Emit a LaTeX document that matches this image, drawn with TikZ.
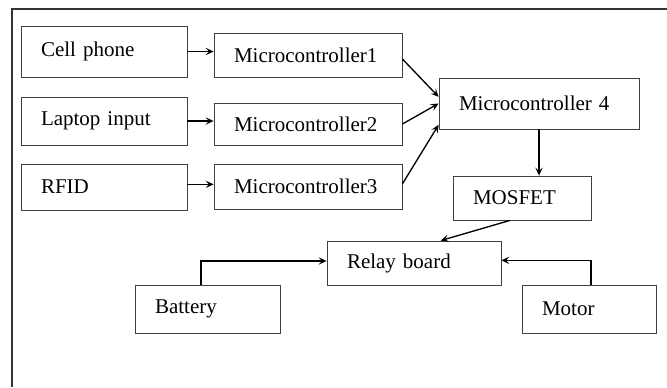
\documentclass[tikz,border=0pt]{standalone}
\usepackage{fontspec}
\setmainfont{Liberation Serif}
\usetikzlibrary{arrows.meta}

\begin{document}
\begin{tikzpicture}[x=0.75pt,y=-0.75pt,
    >={Stealth[length=6pt,width=5.5pt,inset=2.5pt]},
    blk/.style 2 args={rectangle,
       draw=black!75,
       line width=0.6pt,
       inner xsep=15pt,
       inner ysep=0pt,
       align=left,
       text width=#1,
       minimum height=#2,
       font=\fontsize{15.75}{18}\selectfont},
    link/.style={->, line width=1pt}]
\useasboundingbox (0,0) rectangle (667,387);
% outer frame
\draw [line width=0.8pt, black!80] (667,9) -- (12,9) -- (12,387);

% inputs
\node [blk={94.5pt}{38.25pt}] (cell)   at (104,51.5) {Cell phone};
\node [blk={94.5pt}{36pt}]    (laptop) at (104,121)  {Laptop input};
\node [blk={94.5pt}{34.5pt}]  (rfid)   at (104,187)  {RFID};

% controllers
\node [blk={111pt}{33pt}]     (mcone)   at (308,55)    {Microcontroller1};
\node [blk={111pt}{31.5pt}]   (mctwo)   at (308,124)   {Microcontroller2};
\node [blk={111pt}{33.75pt}]  (mcthree) at (308,186.5) {Microcontroller3};
\node [blk={120pt}{38.25pt}]  (mcfour)  at (539,103.5) {Microcontroller 4};

% power side
\node [blk={73.5pt}{33pt}]    (mosfet)  at (522,198)   {MOSFET};
\node [blk={100.5pt}{33pt}]   (relay)   at (414,263)   {Relay board};
\node [blk={78.75pt}{36pt}]   (battery) at (207.5,309) {Battery};
\node [blk={70.5pt}{36pt}]    (motor)   at (589,309)   {Motor};

\draw [link] (cell.east) -- (cell.east -| mcone.west);
\draw [link] (laptop.east) -- (laptop.east -| mctwo.west);
\draw [link] ([yshift=2pt]rfid.east) -- ([yshift=2pt]rfid.east -| mcthree.west);
\draw [link] ([yshift=-3pt]mcone.east) -- ([yshift=5pt]mcfour.west);
\draw [link] (mctwo.east) -- (mcfour.west);
\draw [link] ([yshift=2pt]mcthree.east) -- ([yshift=-16pt]mcfour.west);
\draw [link] (mcfour.south) -- (mcfour.south |- mosfet.north);
\draw [link] ([xshift=-9pt]mosfet.south) -- ([xshift=20pt]relay.north);
\draw [link] ([xshift=-5pt]battery.north) |- ([yshift=1.5pt]relay.west);
\draw [link] ([xshift=1.5pt]motor.north) |- ([yshift=2pt]relay.east);
\end{tikzpicture}
\end{document}
